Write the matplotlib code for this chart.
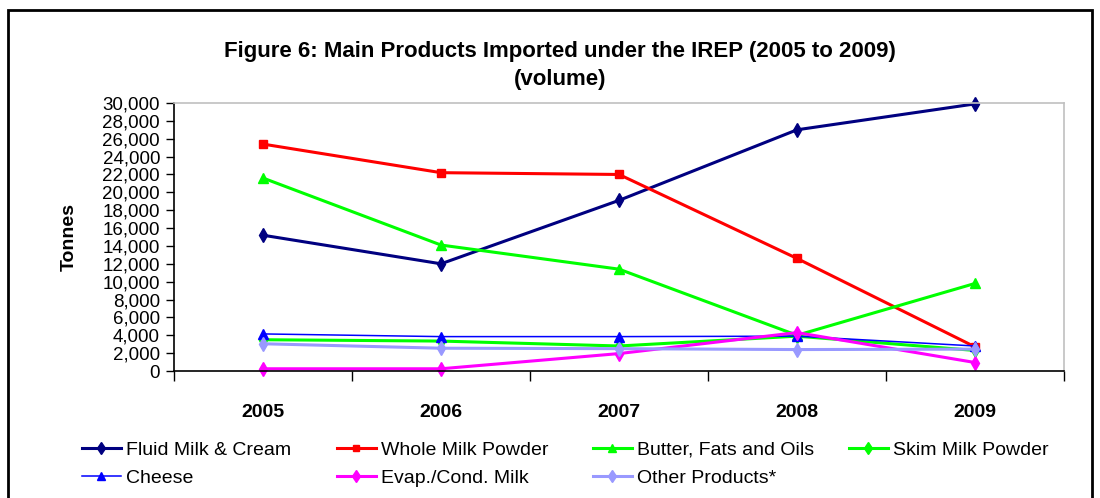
import matplotlib
matplotlib.use("Agg")
import matplotlib.pyplot as plt
from matplotlib.lines import Line2D
from matplotlib.patches import Rectangle
from matplotlib.ticker import FuncFormatter, MultipleLocator, FixedLocator

plt.rcParams['font.family'] = ['Liberation Sans', 'DejaVu Sans']

years = ['2005', '2006', '2007', '2008', '2009']

fluid_milk = [15200, 12000, 19100, 27000, 29900]
whole_milk_powder = [25400, 22200, 22000, 12600, 2700]
butter_fats_oils = [21600, 14100, 11400, 4000, 9800]
skim_milk_powder = [3500, 3350, 2800, 3900, 2300]
cheese = [4150, 3850, 3850, 3900, 2800]
evap_cond_milk = [250, 250, 1950, 4300, 950]
other_products = [3050, 2550, 2500, 2400, 2450]

# name, values, colour, marker, line width, marker size
series = [
    ("Fluid Milk & Cream", fluid_milk, "#000080", "d", 2.2, 7),
    ("Whole Milk Powder", whole_milk_powder, "#FF0000", "s", 2.2, 5.5),
    ("Butter, Fats and Oils", butter_fats_oils, "#00FF00", "^", 2.2, 7),
    ("Skim Milk Powder", skim_milk_powder, "#00FF00", "d", 2.2, 7),
    ("Cheese", cheese, "#0000FF", "^", 1.1, 7),
    ("Evap./Cond. Milk", evap_cond_milk, "#FF00FF", "d", 2.2, 7),
    ("Other Products*", other_products, "#9999FF", "d", 2.2, 7),
]

W, H = 1100, 498
fig = plt.figure(figsize=(W / 100, H / 100), dpi=100)
ax = fig.add_axes([174 / W, 1 - 371 / H, (1064 - 174) / W, (371 - 103) / H])

x = list(range(len(years)))
for name, vals, color, marker, lw, ms in series:
    ax.plot(x, vals, color=color, marker=marker, lw=lw, ms=ms,
            markeredgecolor=color, markerfacecolor=color, label=name,
            clip_on=False)

ax.set_xlim(-0.5, 4.5)
ax.set_ylim(0, 30000)
ax.yaxis.set_major_locator(MultipleLocator(2000))
ax.yaxis.set_major_formatter(FuncFormatter(lambda v, p: f"{int(v):,}"))
ax.tick_params(axis='y', labelsize=13.5, direction='out', length=6, width=1, pad=4)

# category labels in the middle, tick marks on the boundaries
ax.set_xticks(x)
ax.set_xticklabels(years, fontsize=14, fontweight='bold')
ax.tick_params(axis='x', which='major', length=0, pad=24)
ax.xaxis.set_minor_locator(FixedLocator([-0.5, 0.5, 1.5, 2.5, 3.5, 4.5]))
ax.tick_params(axis='x', which='minor', direction='out', length=7, width=1)

for side in ['top', 'right']:
    ax.spines[side].set_color('#C0C0C0')
    ax.spines[side].set_linewidth(1.2)
for side in ['left', 'bottom']:
    ax.spines[side].set_color('black')
    ax.spines[side].set_linewidth(1.2)

fig.text(69 / W, 1 - 237 / H, "Tonnes", rotation=90, fontsize=14,
         fontweight='bold', ha='center', va='center')

fig.text(560 / W, 1 - 52 / H,
         "Figure 6: Main Products Imported under the IREP (2005 to 2009)",
         fontsize=16, fontweight='bold', ha='center', va='center')
fig.text(560 / W, 1 - 80 / H, "(volume)", fontsize=16,
         fontweight='bold', ha='center', va='center')

# legend laid out as four equal columns
columns = [[0, 4], [1, 5], [2, 6], [3]]
col_x = [82, 337, 593, 849]
for idxs, cx in zip(columns, col_x):
    hs = []
    for i in idxs:
        name, vals, color, marker, lw, ms = series[i]
        hs.append(Line2D([], [], color=color, marker=marker, lw=lw, ms=ms - 1,
                         markeredgecolor=color, label=name))
    fig.legend(handles=hs, loc='upper left',
               bbox_to_anchor=(cx / W, 1 - 441 / H),
               frameon=False, fontsize=14, handlelength=2.0,
               handletextpad=0.26, labelspacing=0.55, borderpad=0,
               borderaxespad=0)

fig.add_artist(Rectangle((8 / W, -0.05), (1092 - 8) / W, 1.05 - 10 / H,
                         transform=fig.transFigure, fill=False,
                         edgecolor='black', lw=2))

fig.savefig("out.png", dpi=100)
